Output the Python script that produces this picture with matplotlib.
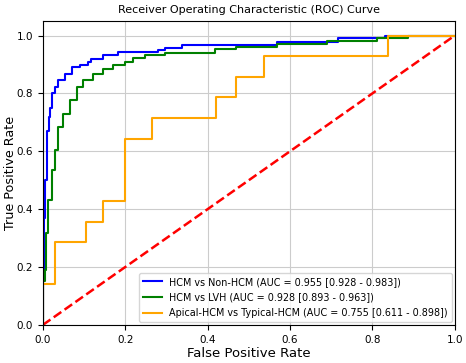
import numpy as np
import matplotlib
matplotlib.use('Agg')
import matplotlib.pyplot as plt

# ROC corner points
fpr_hcm = [0, 0, 0.002, 0.005, 0.009, 0.014, 0.017, 0.023, 0.029, 0.037, 0.053, 0.07,
           0.09, 0.11, 0.118, 0.146, 0.182, 0.28, 0.296, 0.337, 0.568, 0.716, 0.83, 1.0]
tpr_hcm = [0, 0.15, 0.37, 0.5, 0.67, 0.72, 0.75, 0.80, 0.822, 0.845, 0.868, 0.89,
           0.897, 0.908, 0.92, 0.934, 0.943, 0.95, 0.957, 0.966, 0.977, 0.99, 1.0, 1.0]

fpr_lvh = [0, 0, 0.004, 0.007, 0.013, 0.021, 0.029, 0.037, 0.049, 0.066, 0.082, 0.098, 0.122,
           0.146, 0.17, 0.199, 0.218, 0.248, 0.296, 0.417, 0.47, 0.568, 0.69, 0.81, 0.886, 1.0]
tpr_lvh = [0, 0.15, 0.19, 0.317, 0.43, 0.534, 0.603, 0.684, 0.73, 0.776, 0.822, 0.845, 0.868,
           0.885, 0.897, 0.908, 0.923, 0.931, 0.94, 0.954, 0.96, 0.969, 0.98, 0.99, 1.0, 1.0]

fpr_apical = [0, 0, 0.029, 0.105, 0.145, 0.2, 0.265, 0.42, 0.47, 0.536, 0.838, 1.0]
tpr_apical = [0, 0.143, 0.286, 0.357, 0.429, 0.643, 0.714, 0.786, 0.857, 0.929, 1.0, 1.0]

labels = ['HCM vs Non-HCM (AUC = 0.955 [0.928 - 0.983])',
          'HCM vs LVH (AUC = 0.928 [0.893 - 0.963])',
          'Apical-HCM vs Typical-HCM (AUC = 0.755 [0.611 - 0.898])']

fig = plt.figure(figsize=(4.66, 3.63), dpi=100)
ax = fig.add_axes([0.092, 0.105, 0.884, 0.837])

ax.step(fpr_hcm, tpr_hcm, where='post', color='blue', lw=1.5, label=labels[0])
ax.step(fpr_lvh, tpr_lvh, where='post', color='green', lw=1.5, label=labels[1])
ax.step(fpr_apical, tpr_apical, where='post', color='orange', lw=1.5, label=labels[2])
ax.plot([0, 1], [0, 1], color='red', lw=1.8, ls='--')

ax.set_xlim(0, 1)
ax.set_ylim(0, 1.05)
ax.set_xticks(np.arange(0, 1.01, 0.2))
ax.set_yticks(np.arange(0, 1.01, 0.2))
ax.tick_params(labelsize=7.5)
ax.grid(True, color='#cccccc', lw=0.8)
ax.set_title('Receiver Operating Characteristic (ROC) Curve', fontsize=8)
ax.set_xlabel('False Positive Rate', fontsize=9.5, labelpad=2)
ax.set_ylabel('True Positive Rate', fontsize=9.2)
ax.yaxis.set_label_coords(-0.062, 0.5)
ax.legend(loc='lower right', fontsize=6.9, borderaxespad=0.3, labelspacing=0.6)

fig.savefig('out.png', dpi=100)
